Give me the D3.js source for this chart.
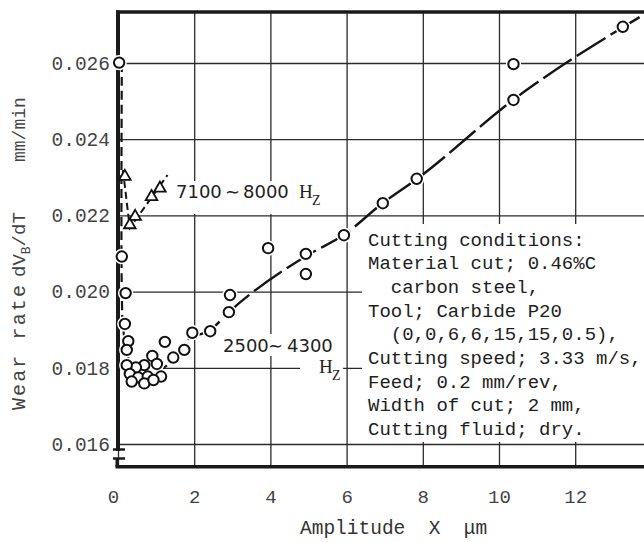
<!DOCTYPE html>
<html>
<head>
<meta charset="utf-8">
<script src="https://cdn.jsdelivr.net/npm/d3@7"></script>
<style>
  body { margin: 0; background: #fff; }
  svg { display: block; }
</style>
</head>
<body>
<script>

// ticks
var xTicks = [0, 2, 4, 6, 8, 10, 12];
var yTicks = [0.016, 0.018, 0.020, 0.022, 0.024, 0.026];

// 2500 ~ 4300 Hz measurements (circles)
var circAmp  = [13.25, 10.38, 10.38, 7.84, 6.95, 5.93, 3.94, 4.93, 4.93, 2.94, 2.91, 2.42,
                1.95, 1.74, 1.45, 1.23, 0.20, 0.18, 0.27, 0.23, 0.90, 1.02, 0.69, 0.47,
                0.23, 0.31, 0.53, 0.78, 1.13, 0.36, 0.69, 0.93, 0.03, 0.10];
var circWear = [0.02695, 0.02597, 0.02503, 0.02296, 0.02232, 0.02148, 0.02114, 0.02099, 0.02046, 0.01991, 0.01946, 0.01896,
                0.01892, 0.01847, 0.01827, 0.01868, 0.01996, 0.01915, 0.01870, 0.01847, 0.01831, 0.01810, 0.01807, 0.01801,
                0.01807, 0.01784, 0.01775, 0.01777, 0.01777, 0.01764, 0.01759, 0.01768, 0.02601, 0.02092];

// 7100 ~ 8000 Hz measurements (triangles)
var triAmp  = [0.18, 1.10, 0.88, 0.45, 0.31];
var triWear = [0.02302, 0.02271, 0.02249, 0.02197, 0.02175];

// hand drawn trend lines
var fitLowAmp   = [0.10, 0.10, 0.14, 0.30, 0.70, 1.20, 1.60, 1.89];
var fitLowWear  = [0.0260, 0.0200, 0.0190, 0.0182, 0.0178, 0.0180, 0.0184, 0.01881];
var fitHighAmp  = [1.89, 2.41, 2.94, 4.93, 5.93, 6.96, 7.85, 10.37, 13.70];
var fitHighWear = [0.01881, 0.01899, 0.01949, 0.02093, 0.02149, 0.02233, 0.02296, 0.02503, 0.02721];
var triFitAmp   = [0.13, 0.31, 1.30];
var triFitWear  = [0.02319, 0.02167, 0.02306];

// cutting conditions text
var condLines = ["Cutting conditions:",
                 "Material cut; 0.46%C",
                 "  carbon steel,",
                 "Tool; Carbide P20",
                 "  (0,0,6,6,15,15,0.5),",
                 "Cutting speed; 3.33 m/s,",
                 "Feed; 0.2 mm/rev,",
                 "Width of cut; 2 mm,",
                 "Cutting fluid; dry."];

var W = 644, H = 542;
var mono = "'Liberation Mono', 'DejaVu Sans Mono', monospace";

var svg = d3.select("body").append("svg")
    .attr("width", W)
    .attr("height", H);

svg.append("rect").attr("width", W).attr("height", H).attr("fill", "#fff");

// scales (plot runs off the right edge like the scan)
var x = d3.scaleLinear().domain([0, 12]).range([118, 575.2]);
var y = d3.scaleLinear().domain([0.016, 0.026]).range([444, 63]);
var xMax = 14.5, yTop = 0.02734, yBottom = 0.0154;

// vertical grid + x labels
var gx = svg.append("g")
    .attr("transform", "translate(0," + y(yBottom) + ")")
    .call(d3.axisBottom(x)
        .tickValues(xTicks)
        .tickSize(-(y(yBottom) - y(yTop)))
        .tickPadding(23)
        .tickFormat(d3.format("d")));
gx.select(".domain").remove();
gx.selectAll(".tick line").attr("stroke", "#2b2b2b").attr("stroke-width", 1.3);
gx.selectAll(".tick text")
    .style("font-family", mono).style("font-size", "19px").attr("fill", "#444")
    .attr("dx", function(d) { return d === 0 ? -5 : 0; });

// horizontal grid + y labels
var gy = svg.append("g")
    .attr("transform", "translate(" + x(0) + ",0)")
    .call(d3.axisLeft(y)
        .tickValues(yTicks)
        .tickSize(-(x(xMax) - x(0)))
        .tickPadding(8)
        .tickFormat(d3.format(".3f")));
gy.select(".domain").remove();
gy.selectAll(".tick line").attr("stroke", "#2b2b2b").attr("stroke-width", 1.3);
gy.selectAll(".tick text")
    .style("font-family", mono).style("font-size", "19.5px").attr("fill", "#444");

// white patches behind the annotations (they hide the grid in the scan)
var masks = [[168, 181, 158, 33], [218, 334, 125, 22], [300, 356, 43, 24], [362, 224, 290, 218]];
svg.selectAll("rect.mask")
    .data(masks)
    .enter().append("rect")
        .attr("class", "mask")
        .attr("x", function(d) { return d[0]; })
        .attr("y", function(d) { return d[1]; })
        .attr("width", function(d) { return d[2]; })
        .attr("height", function(d) { return d[3]; })
        .attr("fill", "#fff");

// heavy frame with the axis break at the bottom left
var frame = svg.append("g").attr("stroke", "#1a1a1a").attr("fill", "none");
frame.append("line")
    .attr("x1", x(0) - 2).attr("x2", W).attr("y1", y(yTop)).attr("y2", y(yTop))
    .attr("stroke-width", 3.5);
frame.append("line")
    .attr("x1", x(0)).attr("x2", x(0)).attr("y1", y(yTop) - 1.5).attr("y2", 451)
    .attr("stroke-width", 4);
frame.append("line")
    .attr("x1", x(0) - 5).attr("x2", x(0) + 7).attr("y1", 449.5).attr("y2", 449.5)
    .attr("stroke-width", 2.5);
frame.append("line")
    .attr("x1", x(0) - 5).attr("x2", x(0) + 7).attr("y1", 458.5).attr("y2", 458.5)
    .attr("stroke-width", 2.5);
frame.append("line")
    .attr("x1", x(0) - 1).attr("x2", x(0) - 1).attr("y1", 458).attr("y2", y(yBottom))
    .attr("stroke-width", 3);
frame.append("line")
    .attr("x1", x(0) - 2.5).attr("x2", W).attr("y1", y(yBottom)).attr("y2", y(yBottom))
    .attr("stroke-width", 3.5);

// trend lines
var lineX = d3.line()
    .x(function(d) { return x(d[0]); })
    .y(function(d) { return y(d[1]); })
    .curve(d3.curveMonotoneX);

svg.append("path")
    .attr("d", d3.line().x(function(d) { return x(d[0]); }).y(function(d) { return y(d[1]); })
        .curve(d3.curveCatmullRom)(d3.zip(fitLowAmp, fitLowWear)))
    .attr("fill", "none").attr("stroke", "#151515").attr("stroke-width", 2.2)
    .attr("stroke-dasharray", "9,5");
svg.append("path")
    .attr("d", lineX(d3.zip(fitHighAmp, fitHighWear)))
    .attr("fill", "none").attr("stroke", "#151515").attr("stroke-width", 2.4)
    .attr("stroke-dasharray", "34,6");
svg.append("path")
    .attr("d", d3.line().x(function(d) { return x(d[0]); }).y(function(d) { return y(d[1]); })(d3.zip(triFitAmp, triFitWear)))
    .attr("fill", "none").attr("stroke", "#151515").attr("stroke-width", 2)
    .attr("stroke-dasharray", "7,4");

// circles: white halo first, then the marker
var circData = d3.zip(circAmp, circWear);
svg.selectAll("circle.halo")
    .data(circData)
    .enter().append("circle")
        .attr("class", "halo")
        .attr("r", 5.2)
        .attr("cx", function(d) { return x(d[0]); })
        .attr("cy", function(d) { return y(d[1]); })
        .attr("fill", "#fff").attr("stroke", "#fff").attr("stroke-width", 5);
svg.selectAll("circle.pt")
    .data(circData)
    .enter().append("circle")
        .attr("class", "pt")
        .attr("r", 5.2)
        .attr("cx", function(d) { return x(d[0]); })
        .attr("cy", function(d) { return y(d[1]); })
        .attr("fill", "#fff").attr("stroke", "#111").attr("stroke-width", 2);

// triangles
var tri = d3.symbol().type(d3.symbolTriangle).size(58);
svg.selectAll("path.tri")
    .data(d3.zip(triAmp, triWear))
    .enter().append("path")
        .attr("class", "tri")
        .attr("d", tri)
        .attr("transform", function(d) { return "translate(" + x(d[0]) + "," + y(d[1]) + ")"; })
        .attr("fill", "#fff").attr("stroke", "#111").attr("stroke-width", 1.8);

// frequency annotations
var sans = "'DejaVu Sans', sans-serif", serif = "'Liberation Serif', serif";
var a1 = svg.append("text").attr("fill", "#222").style("font-size", "18px").style("font-family", sans);
a1.append("tspan").attr("x", 176).attr("y", 198).text("7100");
a1.append("tspan").attr("x", 225).attr("y", 198).text("\u223C");
a1.append("tspan").attr("x", 243).attr("y", 198).text("8000");
a1.append("tspan").attr("x", 299).attr("y", 198).style("font-family", serif).style("font-size", "19px").text("H");
a1.append("tspan").attr("x", 312).attr("y", 205).style("font-family", serif).style("font-size", "14px").text("Z");

var a2 = svg.append("text").attr("fill", "#222").style("font-size", "18px").style("font-family", sans);
a2.append("tspan").attr("x", 223).attr("y", 352).text("2500");
a2.append("tspan").attr("x", 268).attr("y", 352).text("\u223C");
a2.append("tspan").attr("x", 287).attr("y", 352).text("4300");
a2.append("tspan").attr("x", 319).attr("y", 373).style("font-family", serif).style("font-size", "19px").text("H");
a2.append("tspan").attr("x", 332).attr("y", 380).style("font-family", serif).style("font-size", "14px").text("Z");

// cutting conditions block
svg.append("g").selectAll("text")
    .data(condLines)
    .enter().append("text")
        .attr("x", 368)
        .attr("y", function(d, i) { return 245.5 + i * 23.7; })
        .attr("fill", "#1e1e1e")
        .style("font-family", mono).style("font-size", "19px")
        .style("white-space", "pre")
        .text(function(d) { return d; });

// x axis label
svg.append("text")
    .attr("x", 300).attr("y", 534)
    .attr("fill", "#333")
    .style("font-family", mono).style("font-size", "19.5px")
    .style("white-space", "pre")
    .text("Amplitude  X  \u03BCm");

// y axis label, in three pieces
svg.append("text")
    .attr("transform", "rotate(-90)")
    .attr("x", -410).attr("y", 25)
    .attr("textLength", 125).attr("lengthAdjust", "spacing")
    .attr("fill", "#444")
    .style("font-family", mono).style("font-size", "20px")
    .text("Wear rate");
var yl = svg.append("text")
    .attr("transform", "rotate(-90)")
    .attr("x", -277).attr("y", 25)
    .attr("fill", "#444")
    .style("font-family", mono).style("font-size", "19px");
yl.append("tspan").text("dV");
yl.append("tspan").attr("dy", 5).style("font-size", "13px").text("B");
yl.append("tspan").attr("dy", -5).text("/dT");
svg.append("text")
    .attr("transform", "rotate(-90)")
    .attr("x", -162).attr("y", 25)
    .attr("fill", "#444")
    .style("font-family", mono).style("font-size", "18px")
    .text("mm/min");

</script>
</body>
</html>
